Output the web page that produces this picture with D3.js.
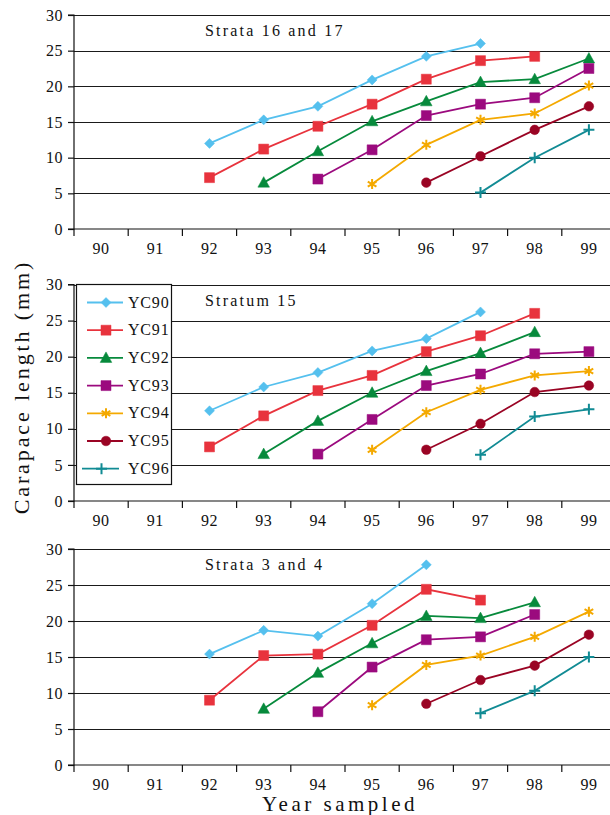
<!DOCTYPE html>
<html>
<head>
<meta charset="utf-8">
<script src="https://cdn.jsdelivr.net/npm/d3@7"></script>
<style>
  html, body { margin: 0; padding: 0; background: #fff; }
  svg { display: block; }
  text { font-family: "Liberation Serif", "DejaVu Serif", serif; fill: #111; }
</style>
</head>
<body>
<svg id="chart" width="610" height="815"></svg>
<script>
// ---------- DATA ----------
const years = ["90", "91", "92", "93", "94", "95", "96", "97", "98", "99"];
const seriesNames = ["YC90", "YC91", "YC92", "YC93", "YC94", "YC95", "YC96"];
const yTicks = [0, 5, 10, 15, 20, 25, 30];
const panelTitles = ["Strata 16 and 17", "Stratum 15", "Strata 3 and 4"];

// Strata 16 and 17 (values for years 90..99, null = not sampled)
const strata1617_YC90 = [null, null, 12.0, 15.3, 17.2, 20.9, 24.2, 26.0, null, null];
const strata1617_YC91 = [null, null, 7.2, 11.2, 14.4, 17.5, 21.0, 23.6, 24.2, null];
const strata1617_YC92 = [null, null, null, 6.5, 10.9, 15.1, 17.9, 20.6, 21.0, 23.9];
const strata1617_YC93 = [null, null, null, null, 7.0, 11.1, 15.9, 17.5, 18.4, 22.5];
const strata1617_YC94 = [null, null, null, null, null, 6.3, 11.8, 15.3, 16.2, 20.1];
const strata1617_YC95 = [null, null, null, null, null, null, 6.5, 10.2, 13.9, 17.2];
const strata1617_YC96 = [null, null, null, null, null, null, null, 5.1, 10.0, 13.9];

// Stratum 15
const stratum15_YC90 = [null, null, 12.5, 15.8, 17.8, 20.8, 22.5, 26.2, null, null];
const stratum15_YC91 = [null, null, 7.5, 11.8, 15.3, 17.4, 20.7, 22.9, 26.0, null];
const stratum15_YC92 = [null, null, null, 6.5, 11.1, 15.0, 18.0, 20.5, 23.4, null];
const stratum15_YC93 = [null, null, null, null, 6.5, 11.3, 16.0, 17.6, 20.4, 20.7];
const stratum15_YC94 = [null, null, null, null, null, 7.1, 12.3, 15.4, 17.4, 18.0];
const stratum15_YC95 = [null, null, null, null, null, null, 7.1, 10.7, 15.1, 16.0];
const stratum15_YC96 = [null, null, null, null, null, null, null, 6.4, 11.7, 12.7];

// Strata 3 and 4
const strata34_YC90 = [null, null, 15.4, 18.7, 17.9, 22.4, 27.8, null, null, null];
const strata34_YC91 = [null, null, 9.0, 15.2, 15.4, 19.4, 24.4, 22.9, null, null];
const strata34_YC92 = [null, null, null, 7.8, 12.8, 16.9, 20.7, 20.4, 22.6, null];
const strata34_YC93 = [null, null, null, null, 7.4, 13.6, 17.4, 17.8, 20.9, null];
const strata34_YC94 = [null, null, null, null, null, 8.3, 13.9, 15.2, 17.8, 21.3];
const strata34_YC95 = [null, null, null, null, null, null, 8.5, 11.8, 13.8, 18.1];
const strata34_YC96 = [null, null, null, null, null, null, null, 7.2, 10.3, 15.0];

const panelData = [
  [strata1617_YC90, strata1617_YC91, strata1617_YC92, strata1617_YC93, strata1617_YC94, strata1617_YC95, strata1617_YC96],
  [stratum15_YC90, stratum15_YC91, stratum15_YC92, stratum15_YC93, stratum15_YC94, stratum15_YC95, stratum15_YC96],
  [strata34_YC90, strata34_YC91, strata34_YC92, strata34_YC93, strata34_YC94, strata34_YC95, strata34_YC96]
];

// ---------- STYLE ----------
const colors = ["#55c0ee", "#e8333d", "#078a3c", "#9b0a7e", "#f4a900", "#9a0424", "#118b94"];
const markers = ["diamond", "square", "triangle", "square", "asterisk", "circle", "plus"];

const svg = d3.select("#chart");
const W = 610;
const xLeft = 74, xRight = 616;
const panels = [
  { top: 15, bottom: 229 },
  { top: 284.5, bottom: 501 },
  { top: 549, bottom: 765 }
];

function markerPath(type) {
  const s = 5;
  switch (type) {
    case "diamond": return `M0,${-s}L${s},0L0,${s}L${-s},0Z`;
    case "square": return `M${-s},${-s}H${s}V${s}H${-s}Z`;
    case "triangle": return `M0,${-s - 1}L${s + 0.8},${s - 0.5}L${-s - 0.8},${s - 0.5}Z`;
    case "circle": return d3.symbol(d3.symbolCircle, Math.PI * 4.8 * 4.8)();
    case "asterisk": return `M0,${-s}V${s}M${-s * 0.87},${-s * 0.5}L${s * 0.87},${s * 0.5}M${-s * 0.87},${s * 0.5}L${s * 0.87},${-s * 0.5}`;
    case "plus": return `M0,${-s - 0.5}V${s + 0.5}M${-s - 0.5},0H${s + 0.5}`;
  }
}
function isStroke(type) { return type === "asterisk" || type === "plus"; }

const x = d3.scaleBand().domain(years).range([xLeft, xRight]).padding(0);

panels.forEach((p, pi) => {
  const y = d3.scaleLinear().domain([0, 30]).range([p.bottom, p.top]);
  const g = svg.append("g");

  // gridlines
  g.append("g").selectAll("line").data(yTicks.filter(d => d > 0)).join("line")
    .attr("x1", xLeft).attr("x2", W)
    .attr("y1", d => Math.round(y(d)) + 0.5).attr("y2", d => Math.round(y(d)) + 0.5)
    .attr("stroke", "#1a1a1a").attr("stroke-width", 1.2);

  // y axis
  const yAxis = d3.axisLeft(y).tickValues(yTicks).tickSize(6).tickPadding(5);
  const ya = g.append("g").attr("transform", `translate(${xLeft},0)`).call(yAxis);
  ya.select(".domain").attr("stroke", "#111").attr("stroke-width", 1.2).attr("d", `M-6,${y(30)}H0V${y(0)}H-6`);
  ya.selectAll(".tick line").attr("stroke", "#111").attr("stroke-width", 1.2);
  ya.selectAll(".tick text").attr("font-size", 16).attr("fill", "#111").attr("letter-spacing", 0.5);

  // x axis
  const xa = g.append("g").attr("transform", `translate(0,${y(0)})`);
  xa.append("line").attr("x1", xLeft).attr("x2", W).attr("y1", 0).attr("y2", 0)
    .attr("stroke", "#111").attr("stroke-width", 1.2);
  xa.selectAll("line.tk").data(years).join("line").attr("class", "tk")
    .attr("x1", d => x(d)).attr("x2", d => x(d)).attr("y1", 0).attr("y2", 7)
    .attr("stroke", "#111").attr("stroke-width", 1.2);
  xa.selectAll("text").data(years).join("text")
    .attr("x", d => x(d) + x.bandwidth() / 2).attr("y", 24.5)
    .attr("text-anchor", "middle").attr("font-size", 16).attr("letter-spacing", 0.5)
    .text(d => d);

  // title
  g.append("text").attr("x", 205).attr("y", y(30) + 21)
    .attr("font-size", 16).attr("letter-spacing", 2.2).text(panelTitles[pi]);

  // series
  const line = d3.line()
    .defined(d => d != null)
    .x((d, i) => x(years[i]) + x.bandwidth() / 2)
    .y(d => y(d));

  panelData[pi].forEach((vals, si) => {
    g.append("path").attr("d", line(vals))
      .attr("fill", "none").attr("stroke", colors[si]).attr("stroke-width", 1.8);
    const pts = vals.map((v, i) => ({ v, i })).filter(d => d.v != null);
    g.selectAll(null).data(pts).join("path")
      .attr("transform", d => `translate(${x(years[d.i]) + x.bandwidth() / 2},${y(d.v)})`)
      .attr("d", markerPath(markers[si]))
      .attr("fill", isStroke(markers[si]) ? "none" : colors[si])
      .attr("stroke", colors[si])
      .attr("stroke-width", isStroke(markers[si]) ? 2 : 0.5);
  });

  // legend in middle panel
  if (pi === 1) {
    const lg = g.append("g");
    const lx = 76, ly = y(30), lw = 95, lh = 200;
    lg.append("rect").attr("x", lx + 0.5).attr("y", ly).attr("width", lw).attr("height", lh)
      .attr("fill", "#fff").attr("stroke", "#111").attr("stroke-width", 1.2);
    seriesNames.forEach((name, si) => {
      const cy = ly + 18 + si * 27.7;
      const x0 = si === 6 ? 82 : 87, x1 = si === 6 ? 119 : 123;
      lg.append("line").attr("x1", x0).attr("x2", x1).attr("y1", cy).attr("y2", cy)
        .attr("stroke", colors[si]).attr("stroke-width", 1.8);
      lg.append("path").attr("transform", `translate(${(x0 + x1) / 2 + 1},${cy})`)
        .attr("d", markerPath(markers[si]))
        .attr("fill", isStroke(markers[si]) ? "none" : colors[si])
        .attr("stroke", colors[si])
        .attr("stroke-width", isStroke(markers[si]) ? 2 : 0.5);
      lg.append("text").attr("x", 128).attr("y", cy + 5)
        .attr("font-size", 16).attr("letter-spacing", 0.8).text(name);
    });
  }
});

// axis titles
svg.append("text")
  .attr("transform", "translate(29,387) rotate(-90)")
  .attr("text-anchor", "middle").attr("font-size", 22).attr("letter-spacing", 2.9)
  .text("Carapace length (mm)");

svg.append("text")
  .attr("x", 340).attr("y", 811)
  .attr("text-anchor", "middle").attr("font-size", 21).attr("letter-spacing", 3.5)
  .text("Year sampled");
</script>
</body>
</html>
